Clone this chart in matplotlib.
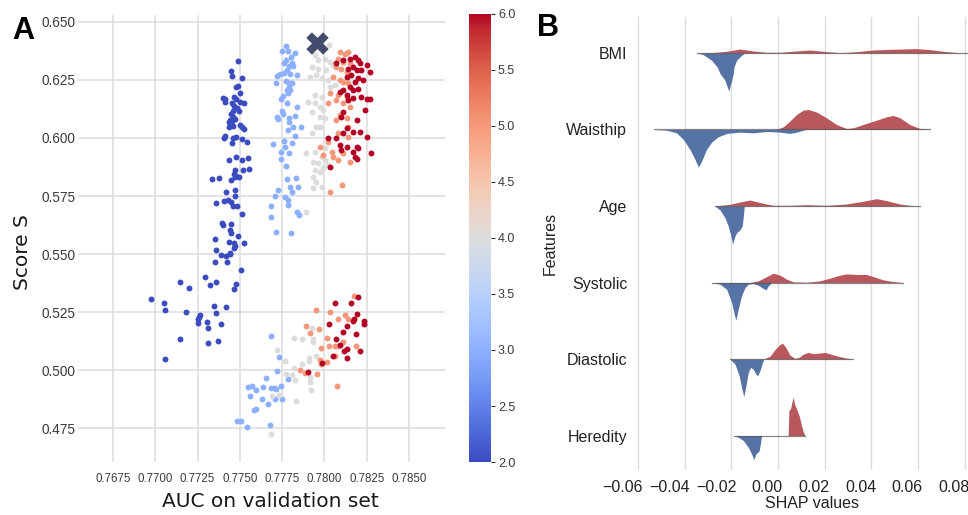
import matplotlib
matplotlib.use("Agg")
import matplotlib.pyplot as plt
from matplotlib import cm, colors
from matplotlib.transforms import ScaledTranslation

# ---- Panel A: score S vs validation AUC, one list of (auc, score) per level ----
level_2 = [
    (0.77490, 0.6332), (0.77445, 0.6287), (0.77514, 0.6259), (0.77454, 0.6266), (0.77490, 0.6226),
    (0.77480, 0.6218), (0.77502, 0.6196), (0.77398, 0.6173), (0.77413, 0.6168), (0.77463, 0.6177),
    (0.77475, 0.6169), (0.77410, 0.6155), (0.77454, 0.6150), (0.77500, 0.6156), (0.77524, 0.6152),
    (0.77466, 0.6139), (0.77484, 0.6130), (0.77494, 0.6117), (0.77457, 0.6116), (0.77449, 0.6103),
    (0.77460, 0.6092), (0.77470, 0.6083), (0.77441, 0.6077), (0.77433, 0.6067), (0.77454, 0.6072),
    (0.77498, 0.6055), (0.77512, 0.6046), (0.77525, 0.6037), (0.77437, 0.6046), (0.77460, 0.6052),
    (0.77410, 0.6010), (0.77405, 0.6001), (0.77459, 0.6001), (0.77475, 0.6003), (0.77453, 0.5977),
    (0.77514, 0.5996), (0.77540, 0.5983), (0.77433, 0.5905), (0.77475, 0.5920), (0.77510, 0.5907),
    (0.77547, 0.5913), (0.77469, 0.5863), (0.77520, 0.5863), (0.77555, 0.5866), (0.77463, 0.5844),
    (0.77480, 0.5837), (0.77494, 0.5834), (0.77472, 0.5831), (0.77335, 0.5825), (0.77376, 0.5829),
    (0.77449, 0.5817), (0.77472, 0.5777), (0.77419, 0.5769), (0.77472, 0.5748), (0.77358, 0.5719),
    (0.77404, 0.5728), (0.77429, 0.5734), (0.77449, 0.5724), (0.77459, 0.5705), (0.77486, 0.5709),
    (0.77512, 0.5674), (0.77395, 0.5634), (0.77401, 0.5623), (0.77445, 0.5631), (0.77443, 0.5602),
    (0.77449, 0.5591), (0.77490, 0.5579), (0.77352, 0.5565), (0.77437, 0.5552), (0.77466, 0.5549),
    (0.77524, 0.5549), (0.77469, 0.5536), (0.77466, 0.5526), (0.77358, 0.5516), (0.77388, 0.5497),
    (0.77417, 0.5492), (0.77441, 0.5505), (0.77439, 0.5499), (0.77352, 0.5464), (0.77425, 0.5466),
    (0.77506, 0.5432), (0.77480, 0.5373), (0.77463, 0.5348), (0.77291, 0.5403), (0.77322, 0.5367),
    (0.77358, 0.5381), (0.77147, 0.5380), (0.77199, 0.5353), (0.76976, 0.5308), (0.77053, 0.5288),
    (0.77057, 0.5258), (0.77179, 0.5252), (0.77262, 0.5237), (0.77258, 0.5228), (0.77254, 0.5221),
    (0.77254, 0.5204), (0.77307, 0.5207), (0.77311, 0.5181), (0.77350, 0.5278), (0.77356, 0.5248),
    (0.77421, 0.5271), (0.77390, 0.5198), (0.77145, 0.5132), (0.77313, 0.5118), (0.77370, 0.5127),
    (0.77055, 0.5046),
]
level_3 = [
    (0.77770, 0.6395), (0.77827, 0.6366), (0.77752, 0.6374), (0.77782, 0.6375), (0.77801, 0.6349),
    (0.77770, 0.6338), (0.77806, 0.6323), (0.77760, 0.6321), (0.77788, 0.6309), (0.77815, 0.6311),
    (0.77776, 0.6295), (0.77835, 0.6272), (0.77760, 0.6278), (0.77796, 0.6275), (0.77719, 0.6268),
    (0.77738, 0.6274), (0.77713, 0.6239), (0.77774, 0.6244), (0.77791, 0.6235), (0.77807, 0.6239),
    (0.77788, 0.6218), (0.77776, 0.6206), (0.77796, 0.6206), (0.77784, 0.6195), (0.77758, 0.6182),
    (0.77746, 0.6168), (0.77778, 0.6149), (0.77835, 0.6134), (0.77752, 0.6117), (0.77754, 0.6103),
    (0.77719, 0.6092), (0.77726, 0.6080), (0.77788, 0.6085), (0.77827, 0.6095), (0.77788, 0.6070),
    (0.77817, 0.6046), (0.77862, 0.6046), (0.77782, 0.6034), (0.77827, 0.6010), (0.77762, 0.5988),
    (0.77806, 0.5977), (0.77697, 0.5974), (0.77766, 0.5963), (0.77790, 0.5937), (0.77742, 0.5939),
    (0.77744, 0.5910), (0.77774, 0.5880), (0.77776, 0.5823), (0.77831, 0.5827), (0.77794, 0.5791),
    (0.77845, 0.5790), (0.77809, 0.5769), (0.77725, 0.5775), (0.77709, 0.5752), (0.77766, 0.5744),
    (0.77782, 0.5731), (0.77687, 0.5709), (0.77782, 0.5711), (0.77839, 0.5683), (0.77847, 0.5669),
    (0.77685, 0.5658), (0.77715, 0.5596), (0.77801, 0.5592),
    (0.77687, 0.5146), (0.77732, 0.5056), (0.77719, 0.4996), (0.77654, 0.4965), (0.77638, 0.4929),
    (0.77551, 0.4929), (0.77569, 0.4933), (0.77561, 0.4889), (0.77596, 0.4914), (0.77630, 0.4877),
    (0.77667, 0.4854), (0.77687, 0.4923), (0.77701, 0.4925), (0.77713, 0.4919), (0.77742, 0.4932),
    (0.77707, 0.4876), (0.77752, 0.4877), (0.77785, 0.4962), (0.77583, 0.4827), (0.77596, 0.4832),
    (0.77484, 0.4779), (0.77504, 0.4781), (0.77541, 0.4753), (0.77681, 0.4764),
]
level_4 = [
    (0.77973, 0.6400), (0.78026, 0.6400), (0.77943, 0.6357), (0.77963, 0.6335), (0.78002, 0.6342),
    (0.78032, 0.6328), (0.77924, 0.6306), (0.77963, 0.6299), (0.78012, 0.6292), (0.78051, 0.6314),
    (0.77914, 0.6263), (0.77953, 0.6271), (0.77983, 0.6257), (0.78022, 0.6249), (0.78032, 0.6220),
    (0.78061, 0.6228), (0.77943, 0.6185), (0.77983, 0.6177), (0.77904, 0.6156), (0.77943, 0.6149),
    (0.77973, 0.6134), (0.77992, 0.6120), (0.77924, 0.6113), (0.77973, 0.6092), (0.78002, 0.6085),
    (0.77953, 0.6049), (0.77973, 0.6049), (0.77924, 0.6020), (0.77894, 0.5934), (0.77943, 0.5941),
    (0.78002, 0.5956), (0.77983, 0.5920), (0.77933, 0.5898), (0.77963, 0.5891), (0.78002, 0.5905),
    (0.78022, 0.5884), (0.77943, 0.5863), (0.77973, 0.5855), (0.77992, 0.5870), (0.77933, 0.5834),
    (0.77953, 0.5812), (0.77983, 0.5791), (0.77933, 0.5784), (0.77894, 0.5682),
    (0.77819, 0.5140), (0.77865, 0.5135), (0.77927, 0.5181), (0.77930, 0.5135), (0.77930, 0.5121),
    (0.77719, 0.5086), (0.77766, 0.5039), (0.77819, 0.5011), (0.77865, 0.5025), (0.77908, 0.5054),
    (0.77908, 0.5039), (0.77953, 0.5060), (0.77770, 0.4983), (0.77809, 0.4978), (0.77829, 0.4957),
    (0.77914, 0.4970), (0.77914, 0.4950), (0.77732, 0.4893), (0.77689, 0.4887), (0.77833, 0.4867),
    (0.77920, 0.4914), (0.77687, 0.4725),
]
level_5 = [
    (0.78091, 0.6371), (0.78121, 0.6364), (0.78140, 0.6371), (0.78081, 0.6342), (0.78111, 0.6328),
    (0.78150, 0.6321), (0.78071, 0.6306), (0.78101, 0.6299), (0.78131, 0.6285), (0.78051, 0.6263),
    (0.78091, 0.6249), (0.78111, 0.6242), (0.78140, 0.6235), (0.78032, 0.6192), (0.78081, 0.6185),
    (0.78131, 0.6177), (0.78071, 0.6163), (0.78111, 0.6149), (0.78150, 0.6134), (0.78022, 0.6149),
    (0.78091, 0.6099), (0.78131, 0.6085), (0.78071, 0.6077), (0.78140, 0.6049), (0.78081, 0.6020),
    (0.78140, 0.6006), (0.77973, 0.5963), (0.78022, 0.5984), (0.78042, 0.5941), (0.77992, 0.5927),
    (0.78111, 0.5934), (0.78081, 0.5905), (0.78150, 0.5898), (0.78051, 0.5920), (0.78032, 0.5769),
    (0.78105, 0.5798),
    (0.78176, 0.5318), (0.77949, 0.5258), (0.78032, 0.5249), (0.78121, 0.5237), (0.78081, 0.5221),
    (0.78140, 0.5218), (0.77892, 0.5188), (0.77969, 0.5179), (0.77915, 0.5158), (0.78016, 0.5137),
    (0.78111, 0.5122), (0.77979, 0.5097), (0.78028, 0.5105), (0.78061, 0.5103), (0.78083, 0.5105),
    (0.78187, 0.5103), (0.78061, 0.5062), (0.78018, 0.5036), (0.77973, 0.5042), (0.77980, 0.5026),
    (0.77853, 0.5000), (0.77884, 0.4987), (0.77957, 0.4983), (0.78077, 0.4933),
]
level_6 = [
    (0.78071, 0.6321), (0.78111, 0.6335), (0.78150, 0.6342), (0.78180, 0.6349), (0.78199, 0.6338),
    (0.78209, 0.6321), (0.78249, 0.6314), (0.78170, 0.6306), (0.78140, 0.6299), (0.78190, 0.6292),
    (0.78219, 0.6292), (0.78268, 0.6285), (0.78131, 0.6263), (0.78160, 0.6271), (0.78199, 0.6257),
    (0.78229, 0.6249), (0.78180, 0.6242), (0.78150, 0.6220), (0.78170, 0.6206), (0.78199, 0.6213),
    (0.78111, 0.6206), (0.78091, 0.6199), (0.78131, 0.6185), (0.78140, 0.6163), (0.78170, 0.6171),
    (0.78219, 0.6177), (0.78249, 0.6166), (0.78268, 0.6166), (0.78239, 0.6120), (0.78111, 0.6113),
    (0.78101, 0.6092), (0.78190, 0.6077), (0.78131, 0.6042), (0.78170, 0.6027), (0.78209, 0.6027),
    (0.78249, 0.6006), (0.78111, 0.6020), (0.78071, 0.5999), (0.78022, 0.5999), (0.78091, 0.5970),
    (0.78131, 0.5963), (0.78190, 0.5963), (0.78199, 0.5956), (0.78101, 0.5948), (0.78170, 0.5941),
    (0.78180, 0.5920), (0.78190, 0.5910), (0.78278, 0.5934), (0.78032, 0.5874),
    (0.78199, 0.5314), (0.78061, 0.5290), (0.78160, 0.5291), (0.78190, 0.5241), (0.78176, 0.5221),
    (0.78170, 0.5211), (0.78235, 0.5211), (0.78233, 0.5198), (0.78026, 0.5198), (0.78131, 0.5192),
    (0.78107, 0.5164), (0.78187, 0.5157), (0.78066, 0.5135), (0.78095, 0.5108), (0.78115, 0.5082),
    (0.78132, 0.5092), (0.78209, 0.5084), (0.78048, 0.5060), (0.78131, 0.5054), (0.77983, 0.5029),
    (0.77904, 0.4993),
]
levels = [2, 3, 4, 5, 6]
best_point = (0.77954, 0.6408)

# ---- Panel B: split violins of SHAP values (red = upper half, blue = lower half) ----
features = ["BMI", "Waisthip", "Age", "Systolic", "Diastolic", "Heredity"]

bmi_red_x = [-0.0341, -0.0263, -0.0220, -0.0163, -0.0106, -0.0049, 0.0009, 0.0080, 0.0137, 0.0194,
             0.0266, 0.0337, 0.0408, 0.0494, 0.0594, 0.0651, 0.0722, 0.0780, 0.0830]
bmi_red_h = [0, 0.009, 0.022, 0.052, 0.026, 0.009, 0.009, 0.026, 0.039, 0.022,
             0.004, 0.017, 0.039, 0.048, 0.057, 0.044, 0.017, 0.004, 0]
bmi_blue_x = [-0.0348, -0.0320, -0.0284, -0.0260, -0.0248, -0.0237, -0.0227, -0.0217, -0.0210,
              -0.0206, -0.0198, -0.0191, -0.0188, -0.0177, -0.0163, -0.0148, -0.0141]
bmi_blue_h = [0, 0.022, 0.096, 0.183, 0.270, 0.314, 0.357, 0.444, 0.497,
              0.444, 0.357, 0.270, 0.183, 0.096, 0.052, 0.013, 0]

waist_red_x = [-0.0006, 0.0023, 0.0051, 0.0080, 0.0109, 0.0130, 0.0166, 0.0208, 0.0251, 0.0294,
               0.0323, 0.0365, 0.0423, 0.0465, 0.0494, 0.0523, 0.0565, 0.0608, 0.0651]
waist_red_h = [0, 0.035, 0.109, 0.196, 0.253, 0.261, 0.227, 0.153, 0.065, 0.013,
               0.022, 0.065, 0.122, 0.166, 0.183, 0.153, 0.065, 0.013, 0]
waist_blue_x = [-0.0531, -0.0477, -0.0434, -0.0405, -0.0377, -0.0355, -0.0341, -0.0327, -0.0306,
                -0.0284, -0.0256, -0.0220, -0.0163, -0.0106, -0.0049, 0.0009, 0.0051, 0.0080,
                0.0109, 0.0123]
waist_blue_h = [0, 0.009, 0.044, 0.131, 0.261, 0.392, 0.492, 0.414, 0.261,
                0.166, 0.096, 0.052, 0.035, 0.044, 0.026, 0.035, 0.052, 0.035,
                0.009, 0]

age_red_x = [-0.0270, -0.0206, -0.0163, -0.0120, -0.0063, -0.0020, 0.0051, 0.0123, 0.0208, 0.0294,
             0.0380, 0.0423, 0.0465, 0.0523, 0.0565, 0.0608]
age_red_h = [0, 0.022, 0.052, 0.078, 0.035, 0.009, 0.009, 0.017, 0.009, 0.026,
             0.070, 0.096, 0.070, 0.026, 0.009, 0]
age_blue_x = [-0.0270, -0.0248, -0.0227, -0.0213, -0.0203, -0.0194, -0.0184, -0.0177, -0.0163,
              -0.0153, -0.0148, -0.0144]
age_blue_h = [0, 0.052, 0.153, 0.261, 0.370, 0.497, 0.392, 0.349, 0.314,
              0.261, 0.131, 0]

sys_red_x = [-0.0120, -0.0084, -0.0056, -0.0020, 0.0009, 0.0037, 0.0066, 0.0123, 0.0180, 0.0223,
             0.0266, 0.0294, 0.0337, 0.0380, 0.0408, 0.0451, 0.0494, 0.0537]
sys_red_h = [0, 0.022, 0.065, 0.122, 0.096, 0.044, 0.009, 0.004, 0.022, 0.057,
             0.096, 0.113, 0.105, 0.105, 0.078, 0.035, 0.013, 0]
sys_blue_x = [-0.0284, -0.0248, -0.0220, -0.0198, -0.0187, -0.0180, -0.0170, -0.0156, -0.0141,
              -0.0127, -0.0106, -0.0084, -0.0063, -0.0051, -0.0041, -0.0027]
sys_blue_h = [0, 0.022, 0.087, 0.261, 0.414, 0.492, 0.349, 0.174, 0.065,
              0.022, 0.013, 0.035, 0.078, 0.096, 0.044, 0]

dia_red_x = [-0.0063, -0.0034, -0.0013, 0.0006, 0.0019, 0.0034, 0.0051, 0.0073, 0.0091, 0.0109,
             0.0130, 0.0151, 0.0180, 0.0201, 0.0230, 0.0266, 0.0294, 0.0323]
dia_red_h = [0, 0.035, 0.122, 0.183, 0.209, 0.153, 0.052, 0.009, 0.022, 0.065,
             0.087, 0.070, 0.078, 0.087, 0.061, 0.031, 0.013, 0]
dia_blue_x = [-0.0206, -0.0184, -0.0166, -0.0154, -0.0146, -0.0137, -0.0127, -0.0117, -0.0106,
              -0.0094, -0.0087, -0.0077, -0.0066, -0.0060]
dia_blue_h = [0, 0.065, 0.218, 0.392, 0.492, 0.349, 0.174, 0.109, 0.131,
              0.196, 0.218, 0.153, 0.044, 0]

her_red_x = [0.0044, 0.0047, 0.0054, 0.0060, 0.0066, 0.0071, 0.0080, 0.0091, 0.0101, 0.0109, 0.0116]
her_red_h = [0, 0.327, 0.349, 0.436, 0.501, 0.414, 0.349, 0.261, 0.131, 0.044, 0]
her_blue_x = [-0.0188, -0.0170, -0.0148, -0.0127, -0.0113, -0.0103, -0.0094, -0.0089, -0.0080,
              -0.0074, -0.0070]
her_blue_h = [0, 0.022, 0.065, 0.153, 0.240, 0.314, 0.240, 0.227, 0.196, 0.087, 0]

violins = [
    (bmi_red_x, bmi_red_h, bmi_blue_x, bmi_blue_h),
    (waist_red_x, waist_red_h, waist_blue_x, waist_blue_h),
    (age_red_x, age_red_h, age_blue_x, age_blue_h),
    (sys_red_x, sys_red_h, sys_blue_x, sys_blue_h),
    (dia_red_x, dia_red_h, dia_blue_x, dia_blue_h),
    (her_red_x, her_red_h, her_blue_x, her_blue_h),
]

RED = "#b8585c"
BLUE = "#5673a5"
GRID = "#dcdcdc"
SANS = "Liberation Sans"

fig = plt.figure(figsize=(9.68, 5.15), dpi=100)

# ---------- panel A ----------
ax = fig.add_axes([0.0806, 0.1029, 0.3791, 0.868])
norm = colors.Normalize(vmin=2, vmax=6)
cmap = plt.get_cmap("coolwarm")
for lvl, pts in zip(levels, [level_2, level_3, level_4, level_5, level_6]):
    xs = [p[0] for p in pts]
    ys = [p[1] for p in pts]
    ax.scatter(xs, ys, s=18, color=cmap(norm(lvl)), linewidths=0, zorder=3)
ax.scatter([best_point[0]], [best_point[1]], marker="X", s=260, color="#434c6c",
           linewidths=0, zorder=4)

ax.set_xlim(0.76543, 0.78713)
ax.set_ylim(0.4604, 0.653)
ax.set_xticks([0.7675, 0.7700, 0.7725, 0.7750, 0.7775, 0.7800, 0.7825, 0.7850])
ax.set_xticklabels(["0.7675", "0.7700", "0.7725", "0.7750", "0.7775", "0.7800", "0.7825", "0.7850"])
ax.set_yticks([0.475, 0.500, 0.525, 0.550, 0.575, 0.600, 0.625, 0.650])
ax.set_yticklabels(["0.475", "0.500", "0.525", "0.550", "0.575", "0.600", "0.625", "0.650"])
ax.grid(True, color=GRID, linewidth=1.1)
ax.set_axisbelow(True)
for sp in ax.spines.values():
    sp.set_visible(False)
ax.tick_params(length=0, labelsize=9.8, labelcolor="#3a3a3a", pad=2)
ax.tick_params(axis="x", pad=8, labelsize=8.3)
for lab in ax.get_xticklabels() + ax.get_yticklabels():
    lab.set_family(SANS)
ax.set_xlabel("AUC on validation set", fontsize=14.5, color="#1a1a1a")
ax.xaxis.set_label_coords(0.523, -0.068)
ax.xaxis.label.set_va("top")
ax.set_ylabel("Score S", fontsize=14.5, color="#1a1a1a")
ax.yaxis.set_label_coords(-0.125, 0.47)

cax = fig.add_axes([0.4845, 0.1029, 0.0227, 0.870])
cb = fig.colorbar(cm.ScalarMappable(norm=norm, cmap=cmap), cax=cax)
cb.outline.set_visible(False)
cb.set_ticks([2.0, 2.5, 3.0, 3.5, 4.0, 4.5, 5.0, 5.5, 6.0])
cb.ax.tick_params(length=3, width=0.8, color="#333333", labelsize=9, labelcolor="#3a3a3a", pad=2)
for lab in cb.ax.get_yticklabels():
    lab.set_family(SANS)

fig.text(0.013, 0.925, "A", fontsize=22, fontweight="bold", family=SANS)

# ---------- panel B ----------
bx = fig.add_axes([0.658, 0.0874, 0.3626, 0.8796])
for i, (rx, rh, bxs, bh) in enumerate(violins):
    bx.fill_between(rx, [i - h for h in rh], i, color=RED, linewidth=0, zorder=3)
    bx.fill_between(bxs, i, [i + h for h in bh], color=BLUE, linewidth=0, zorder=3)
    lo = min(rx[0], bxs[0])
    hi = max(rx[-1], bxs[-1])
    bx.plot([lo, hi], [i, i], color="#555555", linewidth=0.9, alpha=0.7, zorder=4)

bx.set_xlim(-0.0604, 0.09)
bx.set_ylim(5.45, -0.47)
bx.set_xticks([-0.06, -0.04, -0.02, 0.00, 0.02, 0.04, 0.06, 0.08])
bx.set_xticklabels(["\u22120.06", "\u22120.04", "\u22120.02", "0.00", "0.02", "0.04", "0.06", "0.08"])
bx.set_yticks(range(len(features)))
bx.set_yticklabels(features)
bx.grid(True, axis="x", color=GRID, linewidth=1.0)
bx.set_axisbelow(True)
for sp in bx.spines.values():
    sp.set_visible(False)
bx.tick_params(length=0, labelsize=11.5, labelcolor="#222222")
bx.tick_params(axis="x", pad=7)
bx.tick_params(axis="y", pad=7)
# x tick labels sit just left of their grid lines in the reference
shift = ScaledTranslation(5 / 100, 0, fig.dpi_scale_trans)
for lab in bx.get_xticklabels():
    lab.set_family(SANS)
    lab.set_ha("right")
    lab.set_transform(lab.get_transform() + shift)
for lab in bx.get_yticklabels():
    lab.set_family(SANS)
bx.set_xlabel("SHAP values", fontsize=11.5, family=SANS, color="#222222", labelpad=1)
bx.set_ylabel("Features", fontsize=11.5, family=SANS, color="#222222")
bx.yaxis.set_label_coords(-0.225, 0.5)

fig.text(0.555, 0.93, "B", fontsize=22, fontweight="bold", family=SANS)

fig.savefig("out.png", dpi=100)
